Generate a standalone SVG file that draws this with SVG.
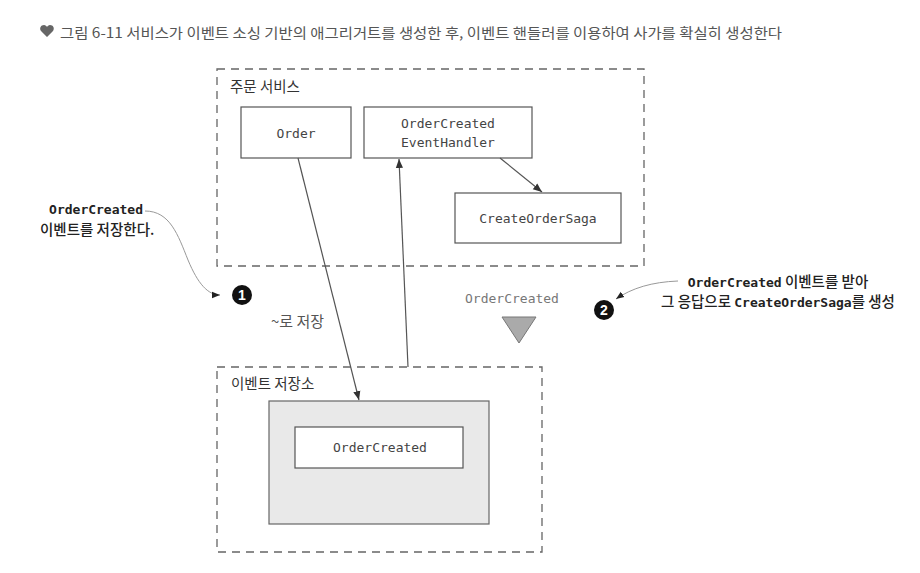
<svg xmlns="http://www.w3.org/2000/svg" width="920" height="573" viewBox="0 0 920 573">
<style>
.bg{fill:#ffffff}
.group{fill:none;stroke:#666;stroke-width:1.3;stroke-dasharray:8 6}
.box{fill:#fff;stroke:#555;stroke-width:1.2}
.store{fill:#e9e9e9;stroke:#666;stroke-width:1.2}
.mono{font-family:"DejaVu Sans Mono","Liberation Mono",monospace;font-size:13px;fill:#444}
.ko{font-family:"Noto Sans CJK KR","Noto Sans",sans-serif;font-size:14.5px;fill:#333}
.note{font-family:"DejaVu Sans Mono","Noto Sans CJK KR",monospace;font-size:13px;fill:#222;font-weight:bold}
.notek{font-family:"Noto Sans CJK KR","Noto Sans",sans-serif;font-size:14.5px;fill:#222;font-weight:500}
.title{font-family:"Noto Sans CJK KR","Noto Sans",sans-serif;font-size:14px;fill:#555}
.edge{fill:none;stroke:#555;stroke-width:1.2}
.callout{fill:none;stroke:#999;stroke-width:1}
.num{font-family:"Liberation Sans","DejaVu Sans",sans-serif;font-size:14px;font-weight:bold;fill:#fff}
</style>
<defs>
<marker id="arr" viewBox="0 0 10 10" refX="10" refY="5" markerWidth="9" markerHeight="9" markerUnits="userSpaceOnUse" orient="auto">
<path d="M0,1 L10,5 L0,9 Z" fill="#333"/>
</marker>
<marker id="arrs" viewBox="0 0 10 10" refX="10" refY="5" markerWidth="8" markerHeight="8" markerUnits="userSpaceOnUse" orient="auto">
<path d="M0,1 L10,5 L0,9 Z" fill="#222"/>
</marker>
</defs>
<rect class="bg" x="0" y="0" width="920" height="573"/>

<g id="title">
<path d="M41,31 C39,28 41,25 44,25 C45.5,25 46.5,26 47,27 C47.5,26 48.5,25 50,25 C53,25 55,28 53,31 L47,37 Z" fill="#666"/>
<text class="title" x="60" y="38" textLength="722" lengthAdjust="spacingAndGlyphs">그림 6-11  서비스가 이벤트 소싱 기반의 애그리거트를 생성한 후, 이벤트 핸들러를 이용하여 사가를 확실히 생성한다</text>
</g>

<g id="order-service">
<rect class="group" x="217" y="69" width="427" height="197"/>
<text class="ko" x="230" y="92">주문 서비스</text>
</g>

<g id="order">
<rect class="box" x="241" y="107" width="110" height="51"/>
<text class="mono" x="296" y="138" text-anchor="middle">Order</text>
</g>

<g id="handler">
<rect class="box" x="364" y="107" width="168" height="51"/>
<text class="mono" x="448" y="128" text-anchor="middle">OrderCreated</text>
<text class="mono" x="448" y="147" text-anchor="middle">EventHandler</text>
</g>

<g id="saga">
<rect class="box" x="455" y="193" width="166" height="50"/>
<text class="mono" x="538" y="223" text-anchor="middle">CreateOrderSaga</text>
</g>

<g id="event-store">
<rect class="group" x="217" y="367" width="325" height="185"/>
<text class="ko" x="231" y="389">이벤트 저장소</text>
<rect class="store" x="269" y="401" width="220" height="123"/>
</g>

<g id="stored-event">
<rect class="box" x="295" y="427" width="168" height="41"/>
<text class="mono" x="380" y="452" text-anchor="middle">OrderCreated</text>
</g>

<g id="published-event">
<text class="mono" x="512" y="303" text-anchor="middle" style="fill:#777">OrderCreated</text>
<polygon points="502,317 536,317 519,343" fill="#aaa" stroke="#777" stroke-width="1"/>
</g>

<g id="connectors">
<line class="edge" x1="298" y1="158" x2="359" y2="400" marker-end="url(#arr)"/>
<line class="edge" x1="408" y1="367" x2="399" y2="159" marker-end="url(#arr)"/>
<line class="edge" x1="500" y1="158" x2="542" y2="192" marker-end="url(#arr)"/>
<text class="ko" x="271" y="327" style="fill:#555" textLength="53" lengthAdjust="spacingAndGlyphs">~로 저장</text>
</g>

<g id="note1">
<text class="note" x="143" y="214" text-anchor="end">OrderCreated</text>
<text class="notek" x="40" y="235">이벤트를 저장한다.</text>
<path class="callout" d="M145,211 C170,211 178,235 188,260 C198,284 208,295 220,295" marker-end="url(#arrs)"/>
<circle cx="242" cy="295" r="10" fill="#111"/>
<text class="num" x="242" y="300" text-anchor="middle">1</text>
</g>

<g id="note2">
<text x="778" y="287" text-anchor="middle"><tspan class="note">OrderCreated</tspan><tspan class="notek"> 이벤트를 받아</tspan></text>
<text x="778" y="307" text-anchor="middle"><tspan class="notek">그 응답으로 </tspan><tspan class="note">CreateOrderSaga</tspan><tspan class="notek">를 생성</tspan></text>
<path class="callout" d="M678,281 C652,282 632,288 616,299" marker-end="url(#arrs)"/>
<circle cx="604" cy="310" r="10" fill="#111"/>
<text class="num" x="604" y="315" text-anchor="middle">2</text>
</g>
</svg>
